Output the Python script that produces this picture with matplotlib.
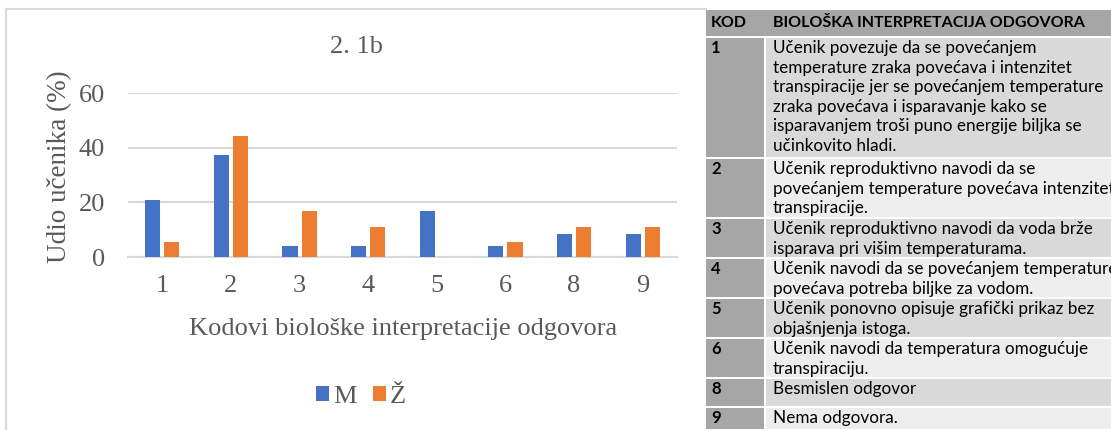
import numpy as np
import matplotlib.pyplot as plt
from matplotlib.patches import Rectangle

# chart data (share of students, %)
codes = ["1", "2", "3", "4", "5", "6", "8", "9"]
m_vals = [20.8, 37.5, 4.2, 4.2, 16.7, 4.2, 8.3, 8.3]
z_vals = [5.6, 44.4, 16.7, 11.1, 0.0, 5.6, 11.1, 11.1]

# table text
tab_header = ["KOD", "BIOLOŠKA INTERPRETACIJA ODGOVORA"]
tab_codes = ["1", "2", "3", "4", "5", "6", "8", "9"]
tab_text = [
    ["Učenik povezuje da se povećanjem",
     "temperature zraka povećava i intenzitet",
     "transpiracije jer se povećanjem temperature",
     "zraka povećava i isparavanje kako se",
     "isparavanjem troši puno energije biljka se",
     "učinkovito hladi."],
    ["Učenik reproduktivno navodi da se",
     "povećanjem temperature povećava intenzitet",
     "transpiracije."],
    ["Učenik reproduktivno navodi da voda brže",
     "isparava pri višim temperaturama."],
    ["Učenik navodi da se povećanjem temperature",
     "povećava potreba biljke za vodom."],
    ["Učenik ponovno opisuje grafički prikaz bez",
     "objašnjenja istoga."],
    ["Učenik navodi da temperatura omogućuje",
     "transpiraciju."],
    ["Besmislen odgovor"],
    ["Nema odgovora."],
]
row_tops = [37, 158, 218, 258, 298, 338, 378, 407, 430]

W, H = 1111, 430
fig = plt.figure(figsize=(W / 100, H / 100), dpi=100)

# background layer in pixel coords: chart frame + table
bg = fig.add_axes([0, 0, 1, 1])
bg.set_xlim(0, W)
bg.set_ylim(H, 0)
bg.axis("off")

bg.plot([6, 706], [9, 9], color="#d9d9d9", lw=1.5)
bg.plot([6, 6], [9, H], color="#d9d9d9", lw=1.5)

tx0, tx1, tdiv = 706, W, 765
bg.add_patch(Rectangle((tx0, 10), tx1 - tx0, 26, color="#a6a6a6", lw=0))
bg.text(711, 23, tab_header[0], fontsize=11.5, fontweight="bold",
        family="Lato", va="center", color="black")
bg.text(773, 23, tab_header[1], fontsize=11.5, fontweight="bold",
        family="Lato", va="center", color="black")

light = ["#d9d9d9", "#ededed"]
for i, code in enumerate(tab_codes):
    top, bot = row_tops[i], row_tops[i + 1]
    bg.add_patch(Rectangle((tx0, top + 1), tdiv - tx0 - 1, bot - top - 2,
                           color="#a6a6a6", lw=0))
    bg.add_patch(Rectangle((tdiv + 1, top + 1), tx1 - tdiv, bot - top - 2,
                           color=light[i % 2], lw=0))
    bg.text(711, top + 11, code, fontsize=12, fontweight="bold",
            family="Lato", va="center", color="black")
    for j, line in enumerate(tab_text[i]):
        bg.text(773, top + 11 + j * 19.6, line, fontsize=12.3,
                family="Lato", va="center", color="black")

# bar chart
ax = fig.add_axes([128 / W, (H - 257) / H, 549 / W, 164 / H])
x = np.arange(len(codes))
w = 0.22
b1 = ax.bar(x - 0.14, m_vals, w, color="#4472c4", label="M", zorder=3)
b2 = ax.bar(x + 0.14, z_vals, w, color="#ed7d31", label="Ž", zorder=3)

ax.set_xlim(-0.5, len(codes) - 0.5)
ax.set_ylim(0, 60)
ax.set_yticks([0, 20, 40, 60])
ax.set_xticks(x)
ax.set_xticklabels(codes)
ax.grid(axis="y", color="#d9d9d9", lw=1.5, zorder=0)
for s in ["top", "right", "left"]:
    ax.spines[s].set_visible(False)
ax.spines["bottom"].set_color("#d9d9d9")
ax.spines["bottom"].set_linewidth(1.5)
ax.tick_params(length=0, labelsize=19, labelcolor="#595959")
ax.tick_params(axis="x", pad=13)
ax.tick_params(axis="y", pad=16.5)
for t in ax.get_xticklabels() + ax.get_yticklabels():
    t.set_family("Liberation Serif")

ax.set_ylabel("Udio učenika (%)", fontsize=19.5, family="Liberation Serif",
              color="#595959")
ax.yaxis.set_label_coords(-0.102, 0.549)
ax.set_xlabel("Kodovi biološke interpretacije odgovora", fontsize=19,
              family="Liberation Serif", color="#595959")
ax.xaxis.set_label_coords(0.501, -0.372)

bg.text(356, 47, "2. 1b", fontsize=19, family="Liberation Serif",
        color="#595959", ha="center", va="center")

fig.legend(handles=[b1, b2], loc="center", bbox_to_anchor=(361 / W, 1 - 397 / H),
           ncol=2, frameon=False, handlelength=0.5, handleheight=0.5,
           handletextpad=0.15, columnspacing=0.6,
           prop={"family": "Liberation Serif", "size": 19}, labelcolor="#595959")

fig.savefig("out.png", dpi=100)
